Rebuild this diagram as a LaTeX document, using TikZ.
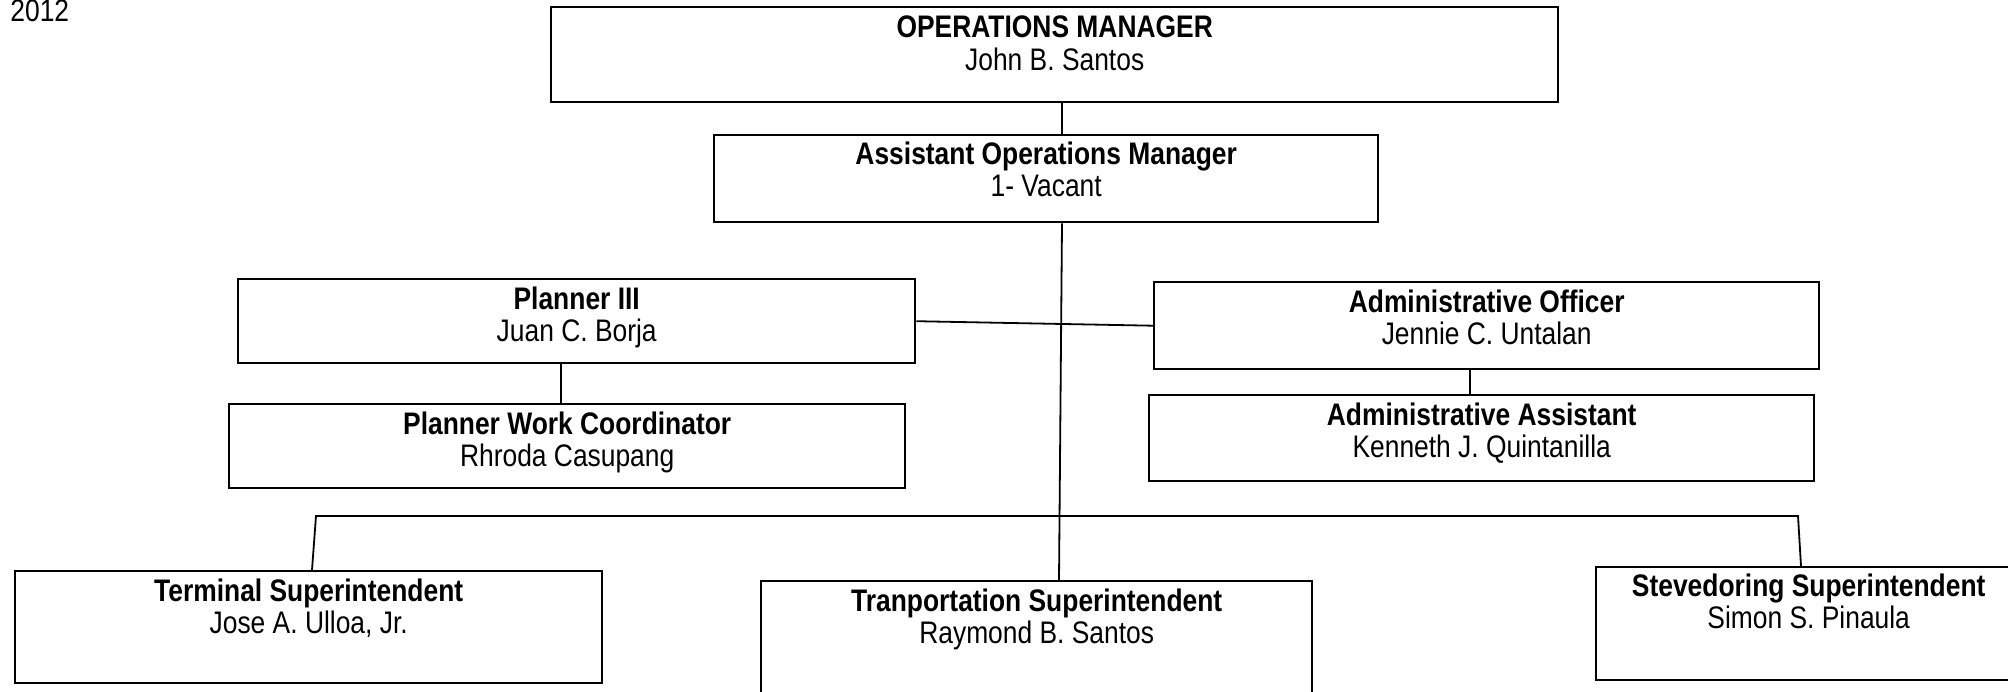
\documentclass[tikz,border=0pt]{standalone}
\usepackage{fontspec}
\usepackage{graphicx}
\setmainfont{Liberation Sans}
\newcommand\stretchtxt[1]{\scalebox{1}[1.18]{#1}}
\begin{document}
\begin{tikzpicture}[x=0.5pt,y=-0.5pt,
  box/.style 2 args={draw, line width=1.2pt, inner sep=0pt, anchor=north west,
    minimum width=#1*0.5pt, minimum height=#2*0.5pt},
  ttl/.style={anchor=base, inner sep=0pt, font=\fontsize{13.2pt}{16pt}\selectfont\bfseries},
  nm/.style={anchor=base, inner sep=0pt, font=\fontsize{13.2pt}{16pt}\selectfont},
  conn/.style={draw, line width=0.9pt}]
\useasboundingbox (0,0) rectangle (2008,691);

\node[nm, anchor=base west] (yr) at (10,21) {\stretchtxt{2012}};

% boxes
\node[box={1007}{95}]  (OM)  at (550,6) {};
\node[box={664}{87}]   (AOM) at (713,134) {};
\node[box={677}{84}]   (P3)  at (237,278) {};
\node[box={676}{84}]   (PWC) at (228,403) {};
\node[box={665}{87}]   (AO)  at (1153,281) {};
\node[box={665}{86}]   (AA)  at (1148,394) {};
\node[box={587}{112}]  (TS)  at (14,570) {};
\node[box={551}{130}]  (TR)  at (760,580) {};
\node[box={425}{113}]  (SS)  at (1595,566) {};

% texts
\node[ttl] (OMt)  at ([yshift=-15.5pt]OM.north)  {\stretchtxt{OPERATIONS MANAGER}};
\node[nm]  (OMn)  at ([yshift=-32pt]OM.north)  {\stretchtxt{John B. Santos}};
\node[ttl] (AOMt) at ([yshift=-15pt]AOM.north) {\stretchtxt{Assistant Operations Manager}};
\node[nm]  (AOMn) at ([yshift=-31pt]AOM.north) {\stretchtxt{1- Vacant}};
\node[ttl] (P3t)  at ([yshift=-15.5pt]P3.north)  {\stretchtxt{Planner III}};
\node[nm]  (P3n)  at ([yshift=-31.5pt]P3.north)  {\stretchtxt{Juan C. Borja}};
\node[ttl] (PWCt) at ([yshift=-15.5pt]PWC.north) {\stretchtxt{Planner Work Coordinator}};
\node[nm]  (PWCn) at ([yshift=-31.5pt]PWC.north) {\stretchtxt{Rhroda Casupang}};
\node[ttl] (AOt)  at ([yshift=-15.5pt]AO.north)  {\stretchtxt{Administrative Officer}};
\node[nm]  (AOn)  at ([yshift=-31.5pt]AO.north)  {\stretchtxt{Jennie C. Untalan}};
\node[ttl] (AAt)  at ([yshift=-15.5pt]AA.north)  {\stretchtxt{Administrative Assistant}};
\node[nm]  (AAn)  at ([yshift=-31.5pt]AA.north)  {\stretchtxt{Kenneth J. Quintanilla}};
\node[ttl] (TSt)  at ([yshift=-15.5pt]TS.north)  {\stretchtxt{Terminal Superintendent}};
\node[nm]  (TSn)  at ([yshift=-31.5pt]TS.north)  {\stretchtxt{Jose A. Ulloa, Jr.}};
\node[ttl] (TRt)  at ([yshift=-15.5pt]TR.north)  {\stretchtxt{Tranportation Superintendent}};
\node[nm]  (TRn)  at ([yshift=-31.5pt]TR.north)  {\stretchtxt{Raymond B. Santos}};
\node[ttl] (SSt)  at ([yshift=-15pt]SS.north)  {\stretchtxt{Stevedoring Superintendent}};
\node[nm]  (SSn)  at ([yshift=-31pt]SS.north)  {\stretchtxt{Simon S. Pinaula}};

% connector columns
\coordinate (sp)   at (1062,0);
\coordinate (spb)  at (1059,0);
\coordinate (pl)   at (561,0);
\coordinate (al)   at (1470,0);
\coordinate (tsTop) at (312,0);
\coordinate (ssTop) at (1801,0);
\coordinate (busL) at (316,516);
\coordinate (busR) at (1798,516);

\draw[conn] (sp |- OM.south) -- (sp |- AOM.north);
\draw[conn] (sp |- AOM.south) -- (spb |- TR.north);
\draw[conn] (P3.east) -- (AO.west);
\draw[conn] (pl |- P3.south) -- (pl |- PWC.north);
\draw[conn] (al |- AO.south) -- (al |- AA.north);
\draw[conn] (tsTop |- TS.north) -- (busL) -- (busR) -- (ssTop |- SS.north);
\end{tikzpicture}
\end{document}
